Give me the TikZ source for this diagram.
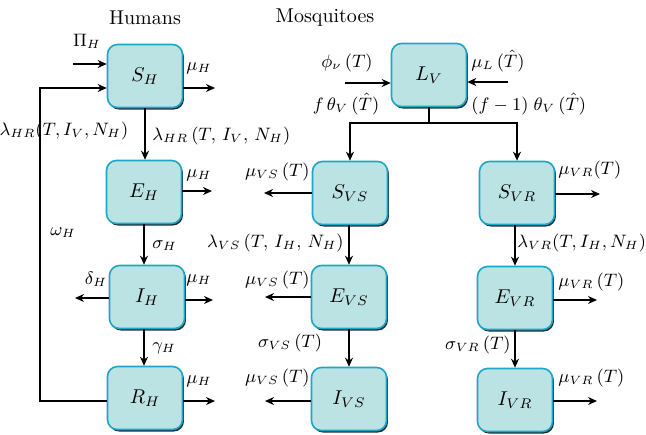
\documentclass[tikz,border=0pt]{standalone}
\usetikzlibrary{arrows.meta}
\definecolor{boxfill}{HTML}{BCE3E4}
\definecolor{boxline}{HTML}{1FA5C8}
\definecolor{boxshadow}{HTML}{1E2B38}
\tikzset{
  comp/.style={draw=boxline, line width=0.8pt, fill=boxfill, rounded corners=5pt,
    minimum width=37.5pt, minimum height=31.5pt, inner sep=0pt, font=\fontsize{10}{12}\selectfont,
    preaction={fill=boxshadow, rounded corners=5pt, transform canvas={shift={(0.7pt,-1pt)}}}},
  arr/.style={line width=1pt, -{Stealth[length=4.5pt,width=4pt]}},
  ln/.style={line width=1pt},
  ttl/.style={inner sep=0pt, font=\fontsize{10}{12}\selectfont},
  lab/.style={inner sep=0pt, font=\fontsize{8.6}{10}\selectfont},
}
\begin{document}
\begin{tikzpicture}[x=0.5pt,y=-0.5pt]
\useasboundingbox (0,0) rectangle (646,434);
% titles
\node[ttl] (thum) at (145,18) {Humans};
\node[ttl] (tmos) at (325,18) {Mosquitoes};
% compartments
\node[comp] (SH) at (145,76) {$S_H$};
\node[comp] (EH) at (144,192) {$E_H$};
\node[comp] (IH) at (147,297) {$I_H$};
\node[comp] (RH) at (145,398) {$R_H$};
\node[comp] (LV) at (429,75) {$L_V$};
\node[comp] (SVS) at (350,193) {$S_{VS}$};
\node[comp] (SVR) at (517,193) {$S_{VR}$};
\node[comp] (EVS) at (349,297) {$E_{VS}$};
\node[comp] (EVR) at (515,298) {$E_{VR}$};
\node[comp] (IVS) at (349,399) {$I_{VS}$};
\node[comp] (IVR) at (515,400) {$I_{VR}$};
% coordinates
\coordinate (pi) at (73,64);
\coordinate (fb) at (40,88);
\coordinate (sho) at (215,88);
\coordinate (eho) at (212,191);
\coordinate (iho) at (213,300);
\coordinate (ihd) at (75,298);
\coordinate (rho) at (215,401);
\coordinate (lvin) at (345,83);
\coordinate (lvmu) at (508,82);
\coordinate (br) at (429,123);
\coordinate (svso) at (264,193);
\coordinate (svro) at (600,194);
\coordinate (evso) at (265,297);
\coordinate (evro) at (597,300);
\coordinate (ivso) at (265,401);
\coordinate (ivro) at (597,401);
% human flows
\draw[arr] (pi) -- (pi -| SH.west);
\draw[arr] (RH.west |- rho) -| (fb) -- (fb -| SH.west);
\draw[arr] (SH.east |- sho) -- (sho);
\draw[arr] (SH.south) -- (SH.south |- EH.north);
\draw[arr] (EH.east |- eho) -- (eho);
\draw[arr] (EH.south) -- (EH.south |- IH.north);
\draw[arr] (IH.east |- iho) -- (iho);
\draw[arr] (IH.west |- ihd) -- (ihd);
\draw[arr] (IH.south -| EH.south) -- (EH.south |- RH.north);
\draw[arr] (RH.east |- rho) -- (rho);
% mosquito flows
\draw[arr] (lvin) -- (lvin -| LV.west);
\draw[arr] (lvmu) -- (lvmu -| LV.east);
\draw[ln] (LV.south) -- (br);
\draw[arr] (br) -| (SVS.north);
\draw[arr] (br) -| (SVR.north);
\draw[arr] (SVS.west |- svso) -- (svso);
\draw[arr] (SVR.east |- svro) -- (svro);
\draw[arr] (SVS.south -| EVS.north) -- (EVS.north);
\draw[arr] (EVS.west |- evso) -- (evso);
\draw[arr] (EVS.south) -- (EVS.south |- IVS.north);
\draw[arr] (IVS.west |- ivso) -- (ivso);
\draw[arr] (SVR.south -| EVR.north) -- (EVR.north);
\draw[arr] (EVR.east |- evro) -- (evro);
\draw[arr] (EVR.south) -- (EVR.south |- IVR.north);
\draw[arr] (IVR.east |- ivro) -- (ivro);
% labels humans
\node[lab] (lpi) at (87,41) {$\Pi_H$};
\node[lab] (lfb) at (64,131) {$\lambda_{HR}(T, I_V, N_H)$};
\node[lab] (lom) at (63,233) {$\omega_H$};
\node[lab, anchor=west] (lmu1) at (186,68) {$\mu_H$};
\node[lab, anchor=west] (lmu2) at (186,175) {$\mu_H$};
\node[lab, anchor=west] (lmu3) at (186,280) {$\mu_H$};
\node[lab, anchor=west] (lmu4) at (186,381) {$\mu_H$};
\node[lab, anchor=west] (llam) at (152,136) {$\lambda_{HR}\,(T,\, I_V,\, N_H)$};
\node[lab, anchor=west] (lsig) at (152,246) {$\sigma_H$};
\node[lab, anchor=west] (lgam) at (152,348) {$\gamma_H$};
\node[lab] (ldel) at (96,279) {$\delta_H$};
% labels mosquitoes
\node[lab] (lphi) at (347,63) {$\phi_\nu\,(T)$};
\node[lab, anchor=west] (lmuL) at (471,61) {$\mu_L\,(\hat{T})$};
\node[lab] (lf) at (346,104) {$f\,\theta_V\,(\hat{T})$};
\node[lab, anchor=west] (lf1) at (471,104) {$(f-1)\;\theta_V\,(\hat{T})$};
\node[lab, anchor=east] (lmvs1) at (310,172) {$\mu_{VS}\,(T)$};
\node[lab, anchor=east] (lmvs2) at (310,280) {$\mu_{VS}\,(T)$};
\node[lab, anchor=east] (lmvs3) at (310,378) {$\mu_{VS}\,(T)$};
\node[lab, anchor=west] (lmvr1) at (558,170) {$\mu_{VR}(T)$};
\node[lab, anchor=west] (lmvr2) at (558,282) {$\mu_{VR}\,(T)$};
\node[lab, anchor=west] (lmvr3) at (558,378) {$\mu_{VR}\,(T)$};
\node[lab, anchor=east] (llvs) at (344,243) {$\lambda_{VS}\,(T,\, I_H,\, N_H)$};
\node[lab] (lsvs) at (290,343) {$\sigma_{VS}\,(T)$};
\node[lab, anchor=west] (llvr) at (517,243) {$\lambda_{VR}(T, I_H, N_H)$};
\node[lab, anchor=east] (lsvr) at (511,345) {$\sigma_{VR}\,(T)$};
\end{tikzpicture}
\end{document}
